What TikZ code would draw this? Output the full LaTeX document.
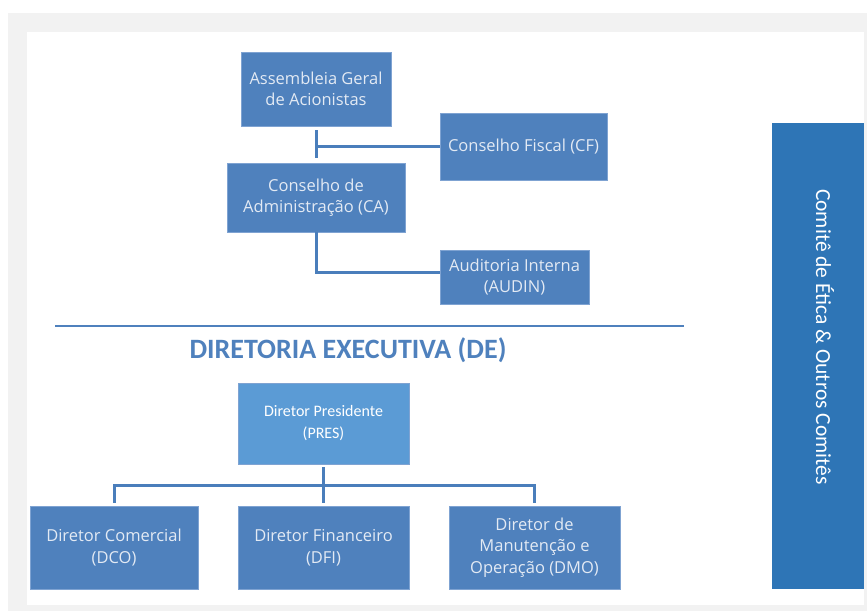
\documentclass[tikz,border=0pt]{standalone}
\usepackage{fontspec}
\setmainfont{Carlito}
\newfontfamily\caixafont{Open Sans}
\usepackage{tikz}
\usetikzlibrary{calc}
\definecolor{boxblue}{HTML}{4F81BD}
\definecolor{boxedge}{HTML}{7FA3D2}
\definecolor{presblue}{HTML}{5B9BD5}
\definecolor{comiteblue}{HTML}{2E75B6}
\definecolor{lineblue}{HTML}{4A7EBB}
\definecolor{boxtext}{HTML}{E3EAF4}
\definecolor{framegrey}{HTML}{F2F2F2}

\begin{document}
\begin{tikzpicture}[x=1pt,y=-1pt,
  caixa/.style={rectangle,fill=boxblue,draw=boxedge,line width=0.8pt,text=boxtext,align=center,inner sep=2pt,font=\caixafont\fontsize{16.5}{21.5}\selectfont},
  ligacao/.style={draw=lineblue,line width=3pt}]
\useasboundingbox (0,0) rectangle (868,611);
\fill[white] (0,0) rectangle (868,611);
\fill[framegrey] (8,13) rectangle (867,611);
\fill[white] (27,32) rectangle (864,605);
\node[caixa,minimum width=150pt,minimum height=74pt] (ag) at (316,89) {Assembleia Geral\\de Acionistas};
\node[caixa,minimum width=167pt,minimum height=67pt] (cf) at (523.5,146.5) {Conselho Fiscal (CF)};
\node[caixa,minimum width=178pt,minimum height=69pt] (ca) at (316,197.5) {Conselho de\\Administração (CA)};
\node[caixa,minimum width=149pt,minimum height=54pt] (audin) at (514.5,277) {Auditoria Interna\\(AUDIN)};
\path[ligacao] ([yshift=-4pt]ag.south) -- ([yshift=5pt]ca.north);
\path[ligacao] (cf.west) -- (cf.west -| ag.south);
\path[ligacao] (ca.south) |- ([yshift=5pt]audin.west);
\coordinate (regraA) at (55,326);
\coordinate (regraB) at (684,326);
\path[draw=boxblue,line width=2.6pt] (regraA) -- (regraB);
\node[text=boxblue,font=\fontsize{28}{32}\selectfont\bfseries] (titulo) at (348,350) {DIRETORIA EXECUTIVA (DE)};
\node[caixa,fill=presblue,minimum width=171pt,minimum height=81pt,text=white,font=\fontsize{16}{22}\selectfont] (pres) at (323.5,423.5) {Diretor Presidente\\(PRES)};
\node[caixa,minimum width=168pt,minimum height=83pt] (dco) at (114,547.5) {Diretor Comercial\\(DCO)};
\node[caixa,minimum width=171pt,minimum height=83pt] (dfi) at (323.5,547.5) {Diretor Financeiro\\(DFI)};
\node[caixa,minimum width=171pt,minimum height=83pt] (dmo) at (534.5,547.5) {Diretor de\\Manutenção e\\Operação (DMO)};
\coordinate (barra) at ($(pres.south)!0.5!(dfi.north)$);
\path[ligacao] ([yshift=-3pt]pres.south) -- ([yshift=3pt]dfi.north);
\path[ligacao] ([yshift=3pt]dco.north) |- (barra) -| ([yshift=3pt]dmo.north);
\node[fill=comiteblue,minimum width=92pt,minimum height=466pt,inner sep=0pt] (comite) at (818,356) {};
\node[rotate=-90,text=white,font=\fontsize{21.5}{24}\selectfont] (comitetxt) at (825,337) {Comitê de Ética \& Outros Comitês};
\end{tikzpicture}
\end{document}
